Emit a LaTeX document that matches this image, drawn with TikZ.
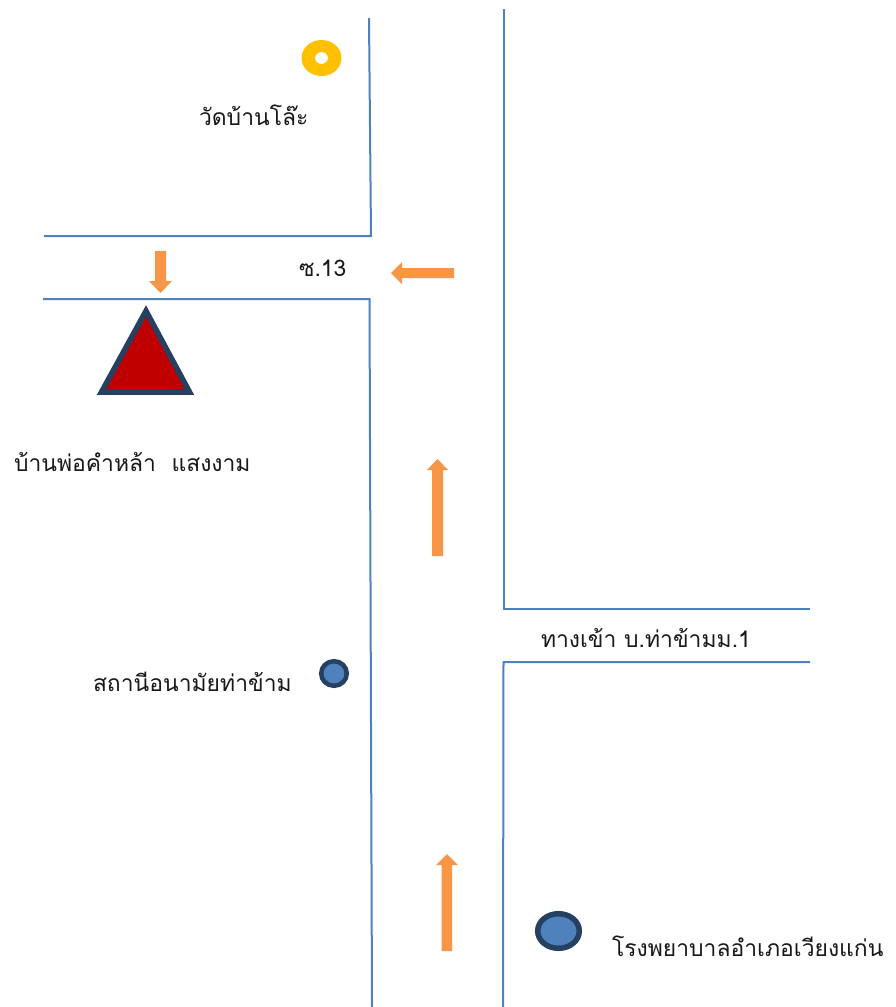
\documentclass[tikz,border=0pt]{standalone}
\usepackage{fontspec}
\newfontfamily\thaifont[Script=Thai]{Loma}
\definecolor{road}{HTML}{4F81BD}
\definecolor{arrowor}{HTML}{F79646}
\definecolor{navy}{HTML}{254061}
\definecolor{redin}{HTML}{C00000}
\definecolor{gold}{HTML}{FFC000}
\tikzset{
  roadline/.style={draw=road,line width=2pt,line join=miter},
  dirarrow/.style={fill=arrowor,draw=none},
  spot/.style={draw=navy,fill=road},
  lab/.style={anchor=base west,inner sep=0pt,outer sep=0pt,text=black!90,font=\thaifont\fontsize{22.9}{25}\selectfont},
}
\begin{document}
\begin{tikzpicture}[x=1pt,y=-1pt]
\useasboundingbox (0,0) rectangle (896,1007);
\fill[white] (0,0) rectangle (896,1007);
% roads
\draw[roadline] (369,18) -- (371,236) -- (44,236);
\draw[roadline] (43,299) -- (369.5,299) -- (372,1007);
\draw[roadline] (503.5,9) -- (503.5,609) -- (810,609);
\draw[roadline] (810,662) -- (503.5,662) -- (503,1007);
% arrows
\fill[dirarrow] (155,251) -- (166,251) -- (166,281) -- (172,281) -- (160.5,293) -- (149,281) -- (155,281) -- cycle;
\fill[dirarrow] (454,268) -- (454,278) -- (402,278) -- (402,284) -- (391,273) -- (402,262) -- (402,268) -- cycle;
\fill[dirarrow] (432,556) -- (443,556) -- (443,470) -- (448,470) -- (437.5,459) -- (427,470) -- (432,470) -- cycle;
\fill[dirarrow] (441.5,951) -- (452,951) -- (452,865) -- (458,865) -- (447,854) -- (436,865) -- (441.5,865) -- cycle;
% markers
\fill[gold,even odd rule] (321.5,58) ellipse [x radius=20,y radius=18] (321.5,58) ellipse [x radius=6.5,y radius=6];
\draw[draw=navy,fill=redin,line width=5.5pt,miter limit=10] (146,311) -- (189.5,392) -- (101.5,392) -- cycle;
\draw[spot,line width=4.5pt] (334,673.5) ellipse [x radius=12.8,y radius=12.3];
\draw[spot,line width=5.5pt] (558.5,931) ellipse [x radius=20.8,y radius=17.3];
% labels
\node[lab] (wat) at (199,125) {วัดบ้านโล๊ะ};
\node[lab] (soi) at (299,276) {ซ.13};
\node[lab] (home) at (14,471) {บ้านพ่อคำหล้า\ \ แสงงาม};
\node[lab] (clinic) at (93,691) {สถานีอนามัยท่าข้าม};
\node[lab] (entry) at (541,647) {ทางเข้า บ.ท่าข้ามม.1};
\node[lab] (hosp) at (612,956) {โรงพยาบาลอำเภอเวียงแก่น};
\end{tikzpicture}
\end{document}
